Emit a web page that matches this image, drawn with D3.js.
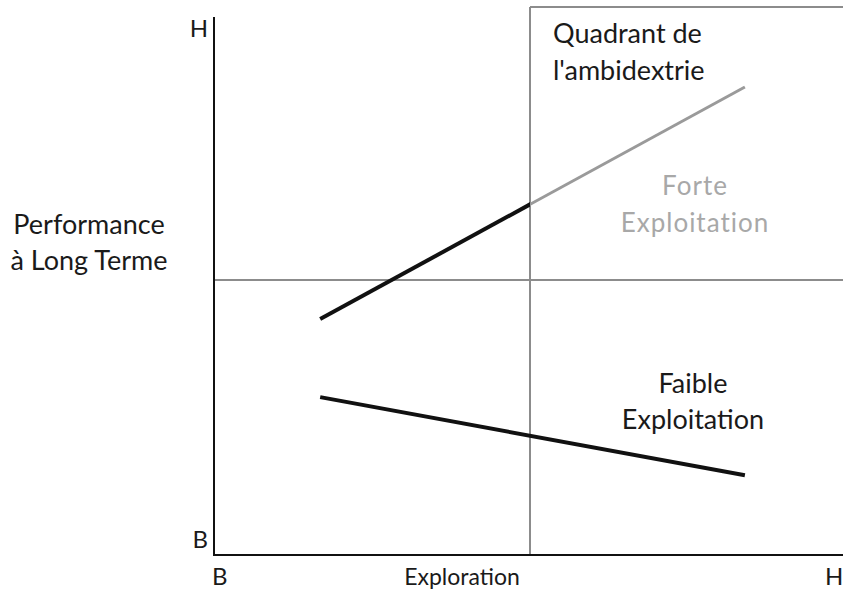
<!DOCTYPE html>
<html>
<head>
<meta charset="utf-8">
<script src="https://cdn.jsdelivr.net/npm/d3@7"></script>
<style>
  body { margin: 0; background: #fff; }
  text { font-family: Lato, "Open Sans", sans-serif; fill: #1a1a1a; }
</style>
</head>
<body>
<div id="chart"></div>
<script>
// quadrant diagram: exploration (x) vs long term performance (y), scale 0..10
var xTicks = [{v: 0, label: "B"}, {v: 10, label: "H"}];
var yTicks = [{v: 0, label: "B"}, {v: 10, label: "H"}];
var midValue = 5;

var forteLine = [{x: 1.68, y: 4.29}, {x: 8.4, y: 8.51}];
var faibleLine = [{x: 1.68, y: 2.87}, {x: 8.4, y: 1.45}];

var quadrantLabel = ["Quadrant de", "l'ambidextrie"];
var forteLabel = ["Forte", "Exploitation"];
var faibleLabel = ["Faible", "Exploitation"];
var yTitle = ["Performance", "à Long Terme"];
var xTitle = "Exploration";

var W = 843, H = 596;
var x = d3.scaleLinear().domain([0, 10]).range([214, 846]);
var y = d3.scaleLinear().domain([0, 10]).range([555, 5]);

var svg = d3.select("#chart").append("svg")
        .attr("width", W)
        .attr("height", H);

var line = d3.line()
        .x(function (d) { return x(d.x); })
        .y(function (d) { return y(d.y); });

// clip regions left / right of the middle divider
var defs = svg.append("defs");
defs.append("clipPath").attr("id", "leftHalf").append("rect")
        .attr("x", 0).attr("y", 0).attr("width", x(midValue)).attr("height", H);
defs.append("clipPath").attr("id", "rightHalf").append("rect")
        .attr("x", x(midValue)).attr("y", 0).attr("width", W).attr("height", H);

// grey dividers
var grey = "#8c8c8c";
svg.append("line")
        .attr("x1", x(0)).attr("x2", W)
        .attr("y1", y(midValue)).attr("y2", y(midValue))
        .attr("stroke", grey).attr("stroke-width", 2);
svg.append("line")
        .attr("x1", x(midValue)).attr("x2", x(midValue))
        .attr("y1", y(10) + 2).attr("y2", y(0))
        .attr("stroke", grey).attr("stroke-width", 2);
svg.append("line")
        .attr("x1", x(midValue)).attr("x2", W)
        .attr("y1", y(10) + 2).attr("y2", y(10) + 2)
        .attr("stroke", grey).attr("stroke-width", 2);

// data lines
svg.append("path")
        .datum(forteLine)
        .attr("d", line)
        .attr("clip-path", "url(#leftHalf)")
        .attr("fill", "none").attr("stroke", "#111").attr("stroke-width", 4);
svg.append("path")
        .datum(forteLine)
        .attr("d", line)
        .attr("clip-path", "url(#rightHalf)")
        .attr("fill", "none").attr("stroke", "#9a9a9a").attr("stroke-width", 3);
svg.append("path")
        .datum(faibleLine)
        .attr("d", line)
        .attr("fill", "none").attr("stroke", "#111").attr("stroke-width", 4);

// axes
svg.append("line")
        .attr("x1", x(0)).attr("x2", x(0))
        .attr("y1", y(10) + 12).attr("y2", y(0) + 1)
        .attr("stroke", "#111").attr("stroke-width", 2);
svg.append("line")
        .attr("x1", x(0) - 1).attr("x2", W)
        .attr("y1", y(0)).attr("y2", y(0))
        .attr("stroke", "#111").attr("stroke-width", 2);

// tick letters
svg.selectAll(".ytick").data(yTicks).enter().append("text")
        .attr("class", "ytick")
        .attr("x", x(0) - 6)
        .attr("y", function (d) { return d.v === 10 ? 37 : 548; })
        .attr("text-anchor", "end")
        .style("font-size", "24px")
        .text(function (d) { return d.label; });
svg.selectAll(".xtick").data(xTicks).enter().append("text")
        .attr("class", "xtick")
        .attr("x", function (d) { return d.v === 0 ? x(0) - 2 : W - 18; })
        .attr("y", 585)
        .style("font-size", "24px")
        .text(function (d) { return d.label; });

// titles
svg.append("text")
        .attr("x", 462).attr("y", 585)
        .attr("text-anchor", "middle")
        .style("font-size", "23px")
        .text(xTitle);
svg.selectAll(".ytitle").data(yTitle).enter().append("text")
        .attr("class", "ytitle")
        .attr("x", 89)
        .attr("y", function (d, i) { return 234 + i * 36; })
        .attr("text-anchor", "middle")
        .style("font-size", "27px")
        .text(function (d) { return d; });

// quadrant labels
svg.selectAll(".qlab").data(quadrantLabel).enter().append("text")
        .attr("class", "qlab")
        .attr("x", 553)
        .attr("y", function (d, i) { return 43 + i * 37; })
        .style("font-size", "27px")
        .text(function (d) { return d; });
svg.selectAll(".forte").data(forteLabel).enter().append("text")
        .attr("class", "forte")
        .attr("x", 695)
        .attr("y", function (d, i) { return 195 + i * 37; })
        .attr("text-anchor", "middle")
        .style("font-size", "26px")
        .style("fill", "#a8a8a8")
        .style("letter-spacing", "1px")
        .text(function (d) { return d; });
svg.selectAll(".faible").data(faibleLabel).enter().append("text")
        .attr("class", "faible")
        .attr("x", 693)
        .attr("y", function (d, i) { return 393 + i * 36; })
        .attr("text-anchor", "middle")
        .style("font-size", "27px")
        .text(function (d) { return d; });
</script>
</body>
</html>
